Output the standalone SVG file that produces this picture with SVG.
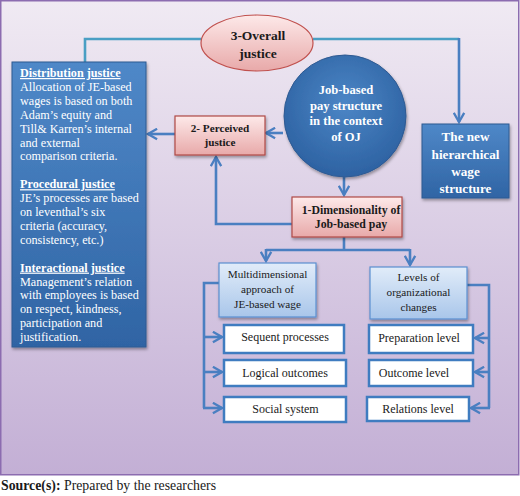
<svg xmlns="http://www.w3.org/2000/svg" width="520" height="496" viewBox="0 0 520 496">
<defs>
<linearGradient id="bg" x1="0" y1="0" x2="0" y2="1"><stop offset="0" stop-color="#f0eaf3"/><stop offset="1" stop-color="#c3afd5"/></linearGradient>
<linearGradient id="blue" x1="0" y1="0" x2="0" y2="1"><stop offset="0" stop-color="#4f88c8"/><stop offset="1" stop-color="#2f64a4"/></linearGradient>
<radialGradient id="circ" cx="0.5" cy="0.4" r="0.6"><stop offset="0" stop-color="#4c86c6"/><stop offset="1" stop-color="#2d62a2"/></radialGradient>
<linearGradient id="pink" x1="0" y1="0" x2="0" y2="1"><stop offset="0" stop-color="#fde9e9"/><stop offset="1" stop-color="#e8a9a9"/></linearGradient>
<linearGradient id="lblue" x1="0" y1="0" x2="0" y2="1"><stop offset="0" stop-color="#e1ecf9"/><stop offset="1" stop-color="#a9c6ea"/></linearGradient>
<marker id="ah" viewBox="0 0 10 10" refX="8.5" refY="5" markerWidth="5" markerHeight="5" orient="auto" markerUnits="strokeWidth"><path d="M1.5,1 L8.5,5 L1.5,9" fill="none" stroke="#4a7fc1" stroke-width="1.8"/></marker>
<filter id="sh" x="-10%" y="-10%" width="130%" height="130%"><feDropShadow dx="1" dy="2" stdDeviation="1.5" flood-color="#000" flood-opacity="0.35"/></filter>
</defs>
<style>
.t{font-family:"Liberation Serif","Times New Roman",serif;}
.w{fill:#ffffff;}
.d{fill:#1a1a1a;}
.b{font-weight:bold;}
.c{stroke:#4a7fc1;stroke-width:2.6;fill:none;}
.tc{stroke:#4a9fc4;stroke-width:2.6;fill:none;}
.wb{fill:#ffffff;stroke:#3f7cc0;stroke-width:2.5;}
</style>
<rect x="0.75" y="0.75" width="518" height="474" fill="url(#bg)" stroke="#8c6cb0" stroke-width="1.5"/>

<g id="connectors">
<path class="tc" d="M202,39 H85 V62"/>
<path class="tc" d="M313,39 H459"/>
<path class="c" d="M459,38 V122" marker-end="url(#ah)"/>
<path class="c" d="M283,133 H266" marker-end="url(#ah)"/>
<path class="c" d="M175,134 H148" marker-end="url(#ah)"/>
<path class="c" d="M344,177 V195" marker-end="url(#ah)"/>
<path class="c" d="M292,224 H216 V157" marker-end="url(#ah)"/>
<path class="c" d="M344,237 V250 M266,250 H410"/>
<path class="c" d="M266,249 V261" marker-end="url(#ah)"/>
<path class="c" d="M410,249 V265" marker-end="url(#ah)"/>
<path class="c" d="M219,283 H204 V408"/>
<path class="c" d="M203,337 H222" marker-end="url(#ah)"/>
<path class="c" d="M203,372 H222" marker-end="url(#ah)"/>
<path class="c" d="M203,408 H222" marker-end="url(#ah)"/>
<path class="c" d="M467,285 H489 V408"/>
<path class="c" d="M490,338 H475" marker-end="url(#ah)"/>
<path class="c" d="M490,372 H475" marker-end="url(#ah)"/>
<path class="c" d="M490,408 H471" marker-end="url(#ah)"/>
</g>

<g id="overall">
<ellipse cx="257" cy="43" rx="56" ry="28" fill="url(#pink)" stroke="#c0504d" stroke-width="1.2"/>
<text class="t d b" x="258" y="40" font-size="13.5" text-anchor="middle">3-Overall</text>
<text class="t d b" x="258" y="58" font-size="13.5" text-anchor="middle">justice</text>
</g>

<g id="justice-types">
<rect x="12" y="62" width="134" height="285" fill="url(#blue)" stroke="#2e5a92" stroke-width="1" filter="url(#sh)"/>
<g class="t w" font-size="12.2">
<text x="20" y="77" font-weight="bold" text-decoration="underline">Distribution justice</text>
<text x="20" y="90.9">Allocation of JE-based</text>
<text x="20" y="104.8">wages is based on both</text>
<text x="20" y="118.7">Adam’s equity and</text>
<text x="20" y="132.6">Till&amp; Karren’s internal</text>
<text x="20" y="146.5">and external</text>
<text x="20" y="160.4">comparison criteria.</text>
<text x="20" y="188.2" font-weight="bold" text-decoration="underline">Procedural justice</text>
<text x="20" y="202.1">JE’s processes are based</text>
<text x="20" y="216">on leventhal’s six</text>
<text x="20" y="229.9">criteria (accuracy,</text>
<text x="20" y="243.8">consistency, etc.)</text>
<text x="20" y="271.6" font-weight="bold" text-decoration="underline">Interactional justice</text>
<text x="20" y="285.5">Management’s relation</text>
<text x="20" y="299.4">with employees is based</text>
<text x="20" y="313.3">on respect, kindness,</text>
<text x="20" y="327.2">participation and</text>
<text x="20" y="341.1">justification.</text>
</g>
</g>

<g id="job-based">
<circle cx="345" cy="116" r="61" fill="url(#circ)" stroke="#2e5a92" stroke-width="1" filter="url(#sh)"/>
<g class="t w b" font-size="12.6" text-anchor="middle">
<text x="346" y="93.5">Job-based</text>
<text x="346" y="109.5">pay structure</text>
<text x="346" y="124.5">in the context</text>
<text x="346" y="140.5">of OJ</text>
</g>
</g>

<g id="new-structure">
<rect x="422" y="124" width="87" height="74" fill="url(#blue)" stroke="#2e5a92" stroke-width="1" filter="url(#sh)"/>
<g class="t w b" font-size="13.2" text-anchor="middle">
<text x="465.5" y="140.5">The new</text>
<text x="465.5" y="158.5">hierarchical</text>
<text x="465.5" y="175.5">wage</text>
<text x="465.5" y="192.5">structure</text>
</g>
</g>

<g id="perceived">
<rect x="175" y="116" width="90" height="39" fill="url(#pink)" stroke="#b04a46" stroke-width="1.2" filter="url(#sh)"/>
<text class="t d b" x="220" y="132" font-size="11.2" text-anchor="middle">2- Perceived</text>
<text class="t d b" x="220" y="146" font-size="11.2" text-anchor="middle">justice</text>
</g>

<g id="dimensionality">
<rect x="292" y="197" width="110" height="40" fill="url(#pink)" stroke="#b04a46" stroke-width="1.2" filter="url(#sh)"/>
<text class="t d b" x="351" y="214" font-size="11.8" text-anchor="middle">1-Dimensionality of</text>
<text class="t d b" x="351" y="228" font-size="11.8" text-anchor="middle">Job-based pay</text>
</g>

<g id="multidimensional">
<rect x="219" y="263" width="97" height="54" fill="url(#lblue)" stroke="#5b8fd0" stroke-width="1.2" filter="url(#sh)"/>
<g class="t d" font-size="11.2" text-anchor="middle">
<text x="267.5" y="278">Multidimensional</text>
<text x="267.5" y="293">approach of</text>
<text x="267.5" y="307.5">JE-based wage</text>
</g>
</g>

<g id="levels">
<rect x="370" y="267" width="97" height="52" fill="url(#lblue)" stroke="#5b8fd0" stroke-width="1.2" filter="url(#sh)"/>
<g class="t d" font-size="11.2" text-anchor="middle">
<text x="418.5" y="281">Levels of</text>
<text x="418.5" y="296">organizational</text>
<text x="418.5" y="311">changes</text>
</g>
</g>

<g id="sequent"><rect class="wb" x="224" y="325" width="120" height="28"/><text class="t d" x="285" y="341" font-size="12" text-anchor="middle">Sequent processes</text></g>
<g id="logical"><rect class="wb" x="224" y="360" width="122" height="26"/><text class="t d" x="285" y="376.5" font-size="12" text-anchor="middle">Logical outcomes</text></g>
<g id="social"><rect class="wb" x="224" y="397" width="122" height="25"/><text class="t d" x="285.5" y="413" font-size="12" text-anchor="middle">Social system</text></g>
<g id="preparation"><rect class="wb" x="369" y="325" width="104" height="28"/><text class="t d" x="419" y="342" font-size="12" text-anchor="middle">Preparation level</text></g>
<g id="outcome"><rect class="wb" x="369" y="360" width="104" height="26"/><text class="t d" x="414" y="376.5" font-size="12" text-anchor="middle">Outcome level</text></g>
<g id="relations"><rect class="wb" x="367" y="397" width="102" height="24"/><text class="t d" x="418" y="412.5" font-size="12" text-anchor="middle">Relations level</text></g>

<text class="t d" x="1" y="490" font-size="13.8"><tspan font-weight="bold">Source(s):</tspan> Prepared by the researchers</text>
</svg>
